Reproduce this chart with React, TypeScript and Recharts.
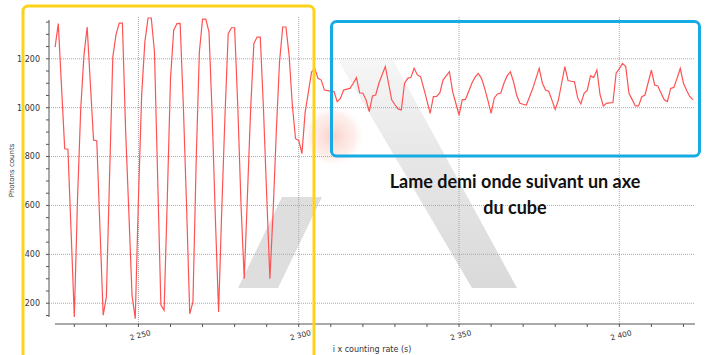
import { LineChart, Line, XAxis, YAxis, ReferenceLine } from "recharts";

// photon counts, one sample per time step starting at firstTime
const firstTime = 2224;
const counts = [
  1248, 1344, 1088, 832, 830, 490, 144, 628, 996, 1214,
  1330, 1098, 867, 865, 505, 151, 226, 723, 1207, 1299,
  1346, 1346, 907, 573, 233, 137, 628, 1051, 1269, 1367,
  1367, 1228, 710, 192, 171, 628, 1119, 1317, 1344, 1345,
  1010, 601, 157, 205, 778, 1228, 1362, 1362, 1310, 969,
  546, 164, 587, 969, 1303, 1327, 1327, 1000, 601, 300,
  642, 996, 1262, 1289, 1289, 996, 642, 300, 573, 901,
  1187, 1330, 1330, 1214, 1010, 873, 866, 812, 982, 1064,
  1146, 1161, 1120, 1113, 1072, 1070, 1068, 1066, 1025, 1038,
  1072, 1076, 1079, 1100, 1123, 1061, 1059, 1032, 984, 1048,
  1052, 1100, 1135, 1168, 1100, 1032, 1012, 995, 991, 1100,
  1120, 1124, 1161, 1134, 1127, 1079, 1028, 977, 1045, 1046,
  1060, 1113, 1130, 1147, 1066, 1018, 970, 1032, 1034, 1066,
  1100, 1125, 1140, 1120, 1079, 1030, 977, 1040, 1056, 1059,
  1100, 1130, 1147, 1106, 1050, 1018, 1014, 1011, 1045, 1079,
  1120, 1161, 1100, 1072, 1066, 1030, 993, 1032, 1100, 1168,
  1111, 1108, 1106, 1040, 1015, 1059, 1072, 1130, 1124, 1154,
  1052, 1007, 1018, 1020, 1021, 1141, 1160, 1181, 1168, 1059,
  1033, 1007, 1007, 1045, 1052, 1103, 1154, 1093, 1089, 1060,
  1032, 1025, 1079, 1083, 1120, 1161, 1100, 1070, 1045, 1032,
];

const yTicks = [
  150, 200, 250, 300, 350, 400, 450, 500, 550, 600, 650, 700, 750,
  800, 850, 900, 950, 1000, 1050, 1100, 1150, 1200, 1250, 1300, 1350,
];
const yMajor = [200, 400, 600, 800, 1000, 1200];
const xTicks = [
  2230, 2240, 2250, 2260, 2270, 2280, 2290, 2300, 2310, 2320,
  2330, 2340, 2350, 2360, 2370, 2380, 2390, 2400, 2410, 2420,
];
const xMajor = [2250, 2300, 2350, 2400];

const data = counts.map((c, i) => ({ t: firstTime + i, counts: c }));

const fmt = (n: number) =>
  n >= 1000 ? `${Math.floor(n / 1000)} ${String(n % 1000).padStart(3, "0")}` : String(n);

const font = "'DejaVu Sans', Verdana, sans-serif";
const gridColor = "#a8a8a8";

function XTick(props: any) {
  const { x, y, payload } = props;
  if (!xMajor.includes(payload.value)) return null;
  return (
    <g transform={`translate(${x},${y})`}>
      <text
        x={0}
        y={0}
        dy={9}
        textAnchor="middle"
        transform="rotate(-15)"
        fontSize={7.5}
        fontFamily={font}
        fill="#333"
      >
        {fmt(payload.value)}
      </text>
    </g>
  );
}

export default function App() {
  return (
    <div style={{ position: "absolute", left: 0, top: 0, width: 705, height: 355, background: "#fff", overflow: "hidden" }}>
      {/* watermark logo behind the plot */}
      <svg width={705} height={355} style={{ position: "absolute", left: 0, top: 0 }}>
        <defs>
          <linearGradient id="legFade" x1="0" y1="0" x2="0" y2="1">
            <stop offset="0" stopColor="#f6f6f6" />
            <stop offset="0.45" stopColor="#e6e6e6" />
            <stop offset="1" stopColor="#dadada" />
          </linearGradient>
          <radialGradient id="redBlob">
            <stop offset="0" stopColor="#f27a62" stopOpacity={0.35} />
            <stop offset="0.7" stopColor="#f8b2a3" stopOpacity={0.2} />
            <stop offset="1" stopColor="#ffffff" stopOpacity={0} />
          </radialGradient>
        </defs>
        <polygon points="338,60 393,60 517,288 472,288" fill="url(#legFade)" />
        <polygon points="238,288 278,288 322,197 282,197" fill="#dedede" />
        <circle cx={333} cy={136} r={32} fill="url(#redBlob)" />
      </svg>

      <div style={{ position: "absolute", left: 0, top: 0 }}>
        <LineChart width={705} height={355} data={data} margin={{ top: 17, right: 10, bottom: 0, left: 0 }}>
          {yMajor.map((v) => (
            <ReferenceLine key={`h${v}`} y={v} stroke={gridColor} strokeDasharray="1 1" />
          ))}
          {xMajor.map((v) => (
            <ReferenceLine key={`v${v}`} x={v} stroke={gridColor} strokeDasharray="1 1" />
          ))}
          <XAxis
            dataKey="t"
            type="number"
            domain={[2222.1, 2423.6]}
            ticks={xTicks}
            interval={0}
            height={31}
            tickSize={3}
            tickMargin={2}
            tick={<XTick />}
            axisLine={{ stroke: "#555", strokeDasharray: "0 6 640 20" }}
            tickLine={{ stroke: "#555" }}
            label={{
              value: "i x counting rate (s)",
              position: "insideBottom",
              offset: 3,
              fontSize: 8,
              fontFamily: font,
              fill: "#333",
            }}
          />
          <YAxis
            type="number"
            domain={[115, 1371]}
            ticks={yTicks}
            interval={0}
            width={49}
            tickSize={3}
            tickMargin={6}
            tickFormatter={(v: number) => (yMajor.includes(v) ? fmt(v) : "")}
            tick={{ fontSize: 8, fontFamily: font, fill: "#333" }}
            axisLine={{ stroke: "#555", strokeDasharray: "0 3 297 20" }}
            tickLine={{ stroke: "#555" }}
            label={{
              value: "Photons counts",
              angle: -90,
              position: "center",
              dx: -13,
              fontSize: 7,
              fontFamily: font,
              fill: "#333",
            }}
          />
          <Line
            type="linear"
            dataKey="counts"
            stroke="#ff5252"
            strokeWidth={1.2}
            dot={false}
            isAnimationActive={false}
          />
        </LineChart>
      </div>

      {/* annotation frames and caption */}
      <svg width={705} height={355} style={{ position: "absolute", left: 0, top: 0, pointerEvents: "none" }}>
        <rect x={23} y={6} width={291} height={370} rx={5} fill="none" stroke="#fdd319" strokeWidth={3} />
        <rect x={331.5} y={21.5} width={368} height={134.5} rx={5} fill="none" stroke="#16abe4" strokeWidth={3} />
        <text x={515} y={188} textAnchor="middle" fontFamily="Lato, sans-serif" fontWeight={700} fontSize={18} fill="#111">
          Lame demi onde suivant un axe
        </text>
        <text x={515} y={214} textAnchor="middle" fontFamily="Lato, sans-serif" fontWeight={700} fontSize={18} fill="#111">
          du cube
        </text>
      </svg>
    </div>
  );
}
